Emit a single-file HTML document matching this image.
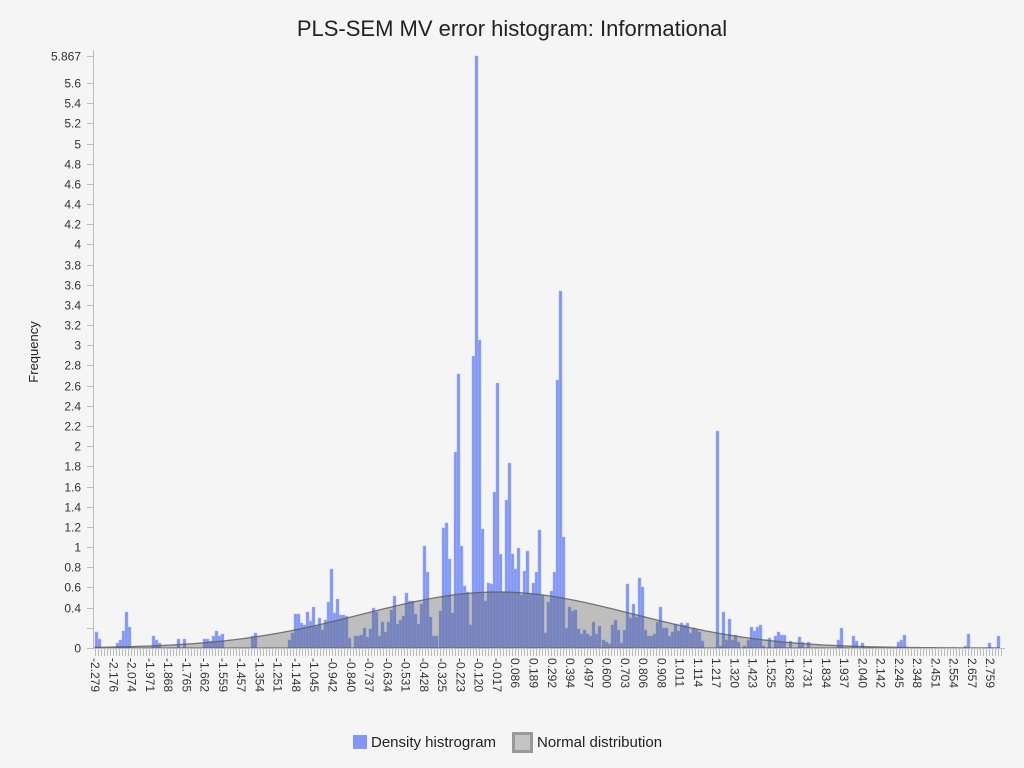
<!DOCTYPE html>
<html><head><meta charset="utf-8"><style>
html,body{margin:0;padding:0;background:#f5f5f5;}
svg{display:block;font-family:"Liberation Sans",sans-serif;}
</style></head><body>
<svg id="s" width="1024" height="768" xmlns="http://www.w3.org/2000/svg">
<rect width="1024" height="768" fill="#f5f5f5"/>
<text x="512" y="36" text-anchor="middle" font-size="22" fill="#222">PLS-SEM MV error histogram: Informational</text>
<text transform="translate(38,352) rotate(-90)" text-anchor="middle" font-size="13" fill="#222">Frequency</text>
<g id="bars"></g>
<path id="curve" fill="rgba(95,95,95,0.36)" stroke="rgba(90,90,90,0.8)" stroke-width="1.3"/>
<g id="axes" stroke="#bbb" stroke-width="1"></g>
<g id="labels" font-size="12" fill="#333"></g>
<rect x="353" y="735" width="14" height="14" fill="#8196f5"/>
<text x="371" y="747" font-size="15" fill="#222">Density histrogram</text>
<rect x="513.5" y="733.5" width="18" height="18" fill="#c4c4c4" stroke="#999" stroke-width="3"/>
<text x="537" y="747" font-size="15" fill="#222">Normal distribution</text>
</svg>
<script>
var NS="http://www.w3.org/2000/svg";
function el(n,a,p){var e=document.createElementNS(NS,n);for(var k in a)e.setAttribute(k,a[k]);p.appendChild(e);return e;}
var B=648;
var bars=[[95,632],[98,639],[116,643],[119,640],[122,631],[125,612],[128,627],[152,636],[155,640],[158,643],[177,639],[183,639],
[203,639],[206,639],[209,641],[212,636],[215,631],[218,636],[221,634],[251,636],[254,633],
[288,640],[291,633],[294,614],[297,614],[300,623],[303,625],[306,612],[309,621],[312,607],[315,626],[318,618],[321,630],[324,620],[327,602],[330,569],[333,613],[336,599],[339,615],[342,615],[345,616],[348,638],
[354,636],[357,636],[360,635],[363,628],[366,637],[369,629],[372,608],[375,612],[378,636],[381,622],[384,632],[387,622],[390,610],[393,596],[396,624],[399,620],[402,616],[405,593],[408,601],[411,601],[414,614],[417,624],[420,604],[423,546],[426,572],[429,617],[432,636],[435,636],
[439,611],[442,528],[445,523],[448,559],[451,613],[454,452],[457,374],[460,546],[463,586],[466,592],[469,625],[472,356],[475,56],[478,340],[481,529],[484,601],[487,583],[490,584],[493,492],[496,383],[499,554],[502,592],[505,500],[508,463],[511,554],[514,569],[517,548],[520,595],[523,571],[526,551],[529,593],[532,583],[535,572],[538,530],[541,595],[544,633],[547,602],[550,591],[553,572],[556,380],[559,291],[562,537],[565,628],[568,607],[571,611],[574,610],[577,629],[580,634],[583,630],[586,634],[589,636],[592,622],[595,634],[598,626],[602,640],[605,642],[608,644],[611,625],[614,620],[617,630],[620,643],[623,630],[626,584],[629,618],[632,604],[635,617],[638,578],[641,587],[644,630],[647,636],[650,636],[653,634],[656,622],[659,607],[662,628],[665,628],[668,636],[671,632],[674,624],[677,631],[680,623],[683,625],[686,623],[689,633],[692,628],[695,630],[698,632],[701,641],
[716,431],[719,646],[722,612],[725,640],[728,619],[731,640],[734,635],[737,642],[743,646],[747,640],[750,627],[753,631],[756,627],[759,625],[762,646],[768,638],[774,636],[777,632],[780,635],[783,635],[789,641],[798,637],[801,642],[807,642],[837,640],[840,628],[852,636],[855,641],[861,643],[897,642],[900,640],[903,635],[964,646],[967,634],[988,643],[997,636]];
var g=document.getElementById('bars');
bars.forEach(function(b){el('rect',{x:b[0],y:b[1],width:3,height:B-b[1],fill:'#8196f5',stroke:'#a7b5f8','stroke-width':0.5},g);});
// curve
var d='M95,'+B;var mu=498,s=135,pk=56;
for(var x=95;x<=1000;x+=2){var y=B-pk*Math.exp(-(x-mu)*(x-mu)/(2*s*s));d+=' L'+x+','+y.toFixed(2);}
d+=' L1000,'+B+' Z';document.getElementById('curve').setAttribute('d',d);
var ax=document.getElementById('axes'),lb=document.getElementById('labels');
el('line',{x1:93.5,y1:50,x2:93.5,y2:B+0.5},ax);
el('line',{x1:93,y1:B+0.5,x2:1005,y2:B+0.5},ax);
for(var x=95;x<=1003;x+=3){el('line',{x1:x+0.5,y1:B,x2:x+0.5,y2:B+8},ax);}
var yt=[[0,'0'],[0.2,''],[0.4,'0.4']];
for(var v=0.6;v<5.65;v+=0.2){var r=Math.round(v*10)/10;yt.push([r,String(r)]);}
yt.push([5.867,'5.867']);
yt.forEach(function(t){var y=Math.round(B-t[0]*100.9)+0.5;el('line',{x1:87,y1:y,x2:93,y2:y},ax);
if(t[1]){var e=el('text',{x:81,y:y+4,'text-anchor':'end'},lb);e.textContent=t[1];}});
var xl=['-2.279','-2.176','-2.074','-1.971','-1.868','-1.765','-1.662','-1.559','-1.457','-1.354','-1.251','-1.148','-1.045','-0.942','-0.840','-0.737','-0.634','-0.531','-0.428','-0.325','-0.223','-0.120','-0.017','0.086','0.189','0.292','0.394','0.497','0.600','0.703','0.806','0.908','1.011','1.114','1.217','1.320','1.423','1.525','1.628','1.731','1.834','1.937','2.040','2.142','2.245','2.348','2.451','2.554','2.657','2.759'];
xl.forEach(function(t,i){var x=95+i*18.27;var e=el('text',{transform:'translate('+(x-4)+',658) rotate(90)','text-anchor':'start'},lb);e.textContent=t;});
</script>
</body></html>
